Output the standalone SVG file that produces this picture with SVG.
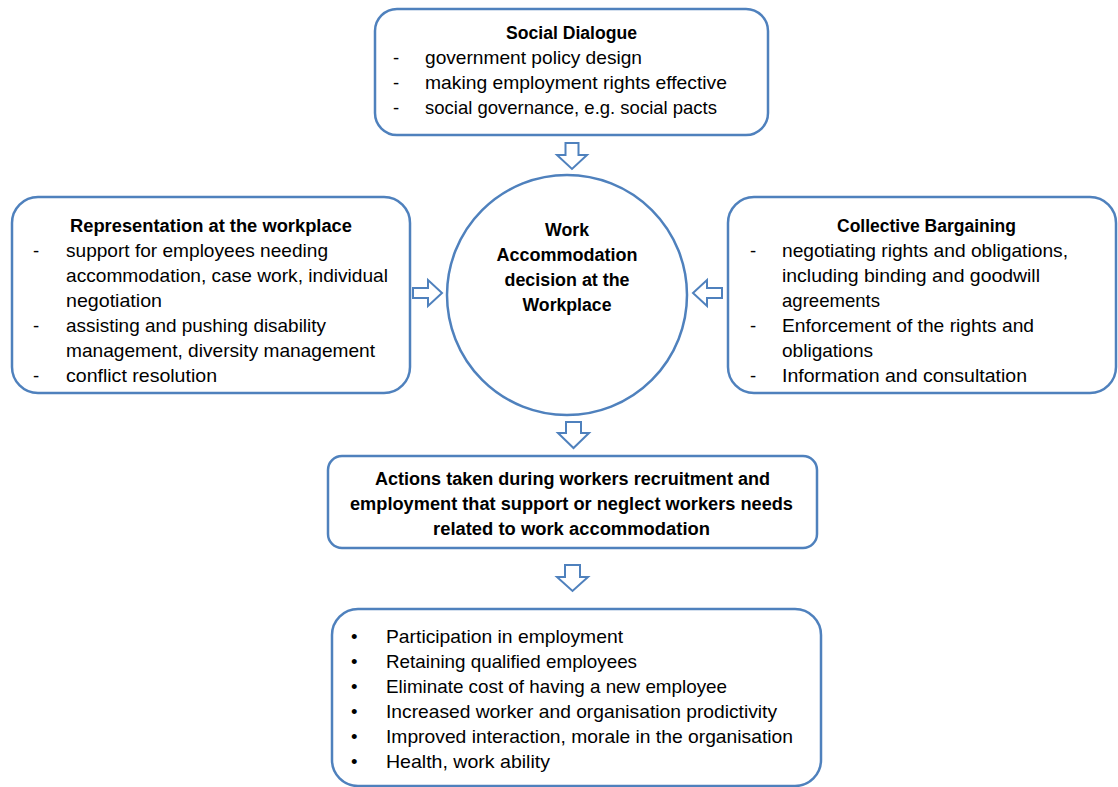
<svg xmlns="http://www.w3.org/2000/svg" width="1118" height="787" viewBox="0 0 1118 787">
<style>
.box{fill:#fff;stroke:#4F81BD;stroke-width:2.5}
.arr{fill:#fff;stroke:#4F81BD;stroke-width:2;stroke-linejoin:miter}
text{font-family:"Liberation Sans",Arial,sans-serif;fill:#000}
.t{font-size:18px;font-weight:bold}
.b{font-size:18.5px}
.c{text-anchor:middle}
</style>
<rect width="1118" height="787" fill="#fff"/>
<g id="connectors">
<polygon class="arr" points="565.5,143 578.5,143 578.5,155 587,155 572,169 557,155 565.5,155"/>
<polygon class="arr" points="566,422 581,422 581,433 589,433 573.5,448 558,433 566,433"/>
<polygon class="arr" points="565,565 580,565 580,577 588,577 572.5,591 557,577 565,577"/>
<polygon class="arr" points="413,288 428,288 428,280 442,293 428,306 428,298 413,298"/>
<polygon class="arr" points="722,288 707,288 707,280 693,293 707,306 707,298 722,298"/>
</g>
<g id="social-dialogue">
<rect class="box" x="375" y="9" width="393" height="126" rx="22"/>
<text class="t" x="506" y="39" textLength="131" lengthAdjust="spacingAndGlyphs">Social Dialogue</text>
<text class="b" x="393" y="64">-</text>
<text class="b" x="425" y="64" textLength="217" lengthAdjust="spacingAndGlyphs">government policy design</text>
<text class="b" x="393" y="89">-</text>
<text class="b" x="425" y="89" textLength="302" lengthAdjust="spacingAndGlyphs">making employment rights effective</text>
<text class="b" x="393" y="114">-</text>
<text class="b" x="425" y="114" textLength="292" lengthAdjust="spacingAndGlyphs">social governance, e.g. social pacts</text>
</g>
<g id="representation">
<rect class="box" x="12" y="197" width="398" height="196" rx="26"/>
<text class="t" x="70" y="232" textLength="282" lengthAdjust="spacingAndGlyphs">Representation at the workplace</text>
<text class="b" x="33" y="257">-</text>
<text class="b" x="66" y="257" textLength="262" lengthAdjust="spacingAndGlyphs">support for employees needing</text>
<text class="b" x="66" y="282" textLength="322" lengthAdjust="spacingAndGlyphs">accommodation, case work, individual</text>
<text class="b" x="66" y="307" textLength="96" lengthAdjust="spacingAndGlyphs">negotiation</text>
<text class="b" x="33" y="332">-</text>
<text class="b" x="66" y="332" textLength="260" lengthAdjust="spacingAndGlyphs">assisting and pushing disability</text>
<text class="b" x="66" y="357" textLength="309" lengthAdjust="spacingAndGlyphs">management, diversity management</text>
<text class="b" x="33" y="382">-</text>
<text class="b" x="66" y="382" textLength="151" lengthAdjust="spacingAndGlyphs">conflict resolution</text>
</g>
<g id="work-accommodation">
<circle class="box" cx="567" cy="295" r="120"/>
<text class="t c" x="567" y="236" textLength="44" lengthAdjust="spacingAndGlyphs">Work</text>
<text class="t c" x="567" y="261" textLength="141" lengthAdjust="spacingAndGlyphs">Accommodation</text>
<text class="t c" x="567" y="286" textLength="125" lengthAdjust="spacingAndGlyphs">decision at the</text>
<text class="t c" x="567" y="311" textLength="89" lengthAdjust="spacingAndGlyphs">Workplace</text>
</g>
<g id="collective-bargaining">
<rect class="box" x="728" y="197" width="388" height="196" rx="26"/>
<text class="t" x="837" y="232" textLength="179" lengthAdjust="spacingAndGlyphs">Collective Bargaining</text>
<text class="b" x="750" y="257">-</text>
<text class="b" x="782" y="257" textLength="286" lengthAdjust="spacingAndGlyphs">negotiating rights and obligations,</text>
<text class="b" x="782" y="282" textLength="258" lengthAdjust="spacingAndGlyphs">including binding and goodwill</text>
<text class="b" x="782" y="307" textLength="98" lengthAdjust="spacingAndGlyphs">agreements</text>
<text class="b" x="750" y="332">-</text>
<text class="b" x="782" y="332" textLength="252" lengthAdjust="spacingAndGlyphs">Enforcement of the rights and</text>
<text class="b" x="782" y="357" textLength="91" lengthAdjust="spacingAndGlyphs">obligations</text>
<text class="b" x="750" y="382">-</text>
<text class="b" x="782" y="382" textLength="245" lengthAdjust="spacingAndGlyphs">Information and consultation</text>
</g>
<g id="actions">
<rect class="box" x="328" y="456" width="489" height="92" rx="14"/>
<text class="t" x="375" y="485" textLength="395" lengthAdjust="spacingAndGlyphs">Actions taken during workers recruitment and</text>
<text class="t" x="350" y="510" textLength="443" lengthAdjust="spacingAndGlyphs">employment that support or neglect workers needs</text>
<text class="t" x="433" y="535" textLength="277" lengthAdjust="spacingAndGlyphs">related to work accommodation</text>
</g>
<g id="outcomes">
<rect class="box" x="332" y="609" width="489" height="177" rx="26"/>
<text class="b" x="351" y="643">•</text>
<text class="b" x="386" y="643" textLength="237" lengthAdjust="spacingAndGlyphs">Participation in employment</text>
<text class="b" x="351" y="668">•</text>
<text class="b" x="386" y="668" textLength="251" lengthAdjust="spacingAndGlyphs">Retaining qualified employees</text>
<text class="b" x="351" y="693">•</text>
<text class="b" x="386" y="693" textLength="341" lengthAdjust="spacingAndGlyphs">Eliminate cost of having a new employee</text>
<text class="b" x="351" y="718">•</text>
<text class="b" x="386" y="718" textLength="391" lengthAdjust="spacingAndGlyphs">Increased worker and organisation prodictivity</text>
<text class="b" x="351" y="743">•</text>
<text class="b" x="386" y="743" textLength="407" lengthAdjust="spacingAndGlyphs">Improved interaction, morale in the organisation</text>
<text class="b" x="351" y="768">•</text>
<text class="b" x="386" y="768" textLength="164" lengthAdjust="spacingAndGlyphs">Health, work ability</text>
</g>
</svg>
